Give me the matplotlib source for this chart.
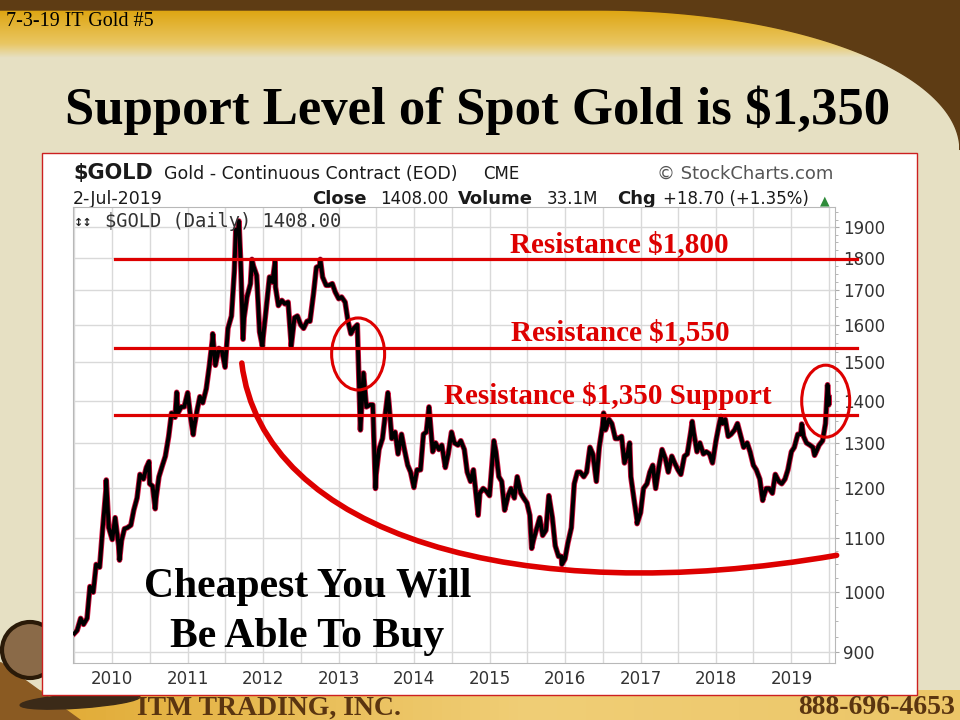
import numpy as np
import pandas as pd
import matplotlib
matplotlib.use('Agg')
import matplotlib.pyplot as plt
import matplotlib.dates as mdates
import matplotlib.patches as mpatches
from matplotlib.path import Path
from matplotlib.ticker import FixedLocator, NullFormatter, FuncFormatter

# gold closes on the 1st and 15th of each month
gold_2009 = [930, 935, 955, 945, 955, 1010, 1000, 1050, 1045, 1115, 1195, 1120]
gold_2010 = [1097, 1140, 1085, 1095, 1118, 1120, 1125, 1155, 1180, 1230, 1220, 1245,
             1210, 1205, 1180, 1225, 1250, 1270, 1315, 1370, 1360, 1370, 1385, 1385]
gold_2011 = [1420, 1360, 1335, 1375, 1410, 1395, 1430, 1485, 1560, 1490, 1535, 1530,
             1485, 1590, 1625, 1760, 1880, 1780, 1620, 1680, 1720, 1775, 1745, 1580]
gold_2012 = [1565, 1640, 1740, 1725, 1710, 1655, 1670, 1660, 1665, 1555, 1620, 1625,
             1600, 1590, 1610, 1610, 1690, 1770, 1775, 1740, 1715, 1715, 1720, 1695]
gold_2013 = [1675, 1680, 1665, 1610, 1575, 1590, 1600, 1350, 1470, 1385, 1390, 1390,
             1230, 1285, 1310, 1370, 1395, 1310, 1325, 1275, 1320, 1285, 1250, 1235]
gold_2014 = [1205, 1240, 1240, 1320, 1325, 1380, 1280, 1300, 1285, 1295, 1245, 1275,
             1325, 1300, 1295, 1305, 1285, 1235, 1215, 1240, 1170, 1190, 1200, 1195]
gold_2015 = [1185, 1265, 1280, 1225, 1215, 1155, 1185, 1200, 1180, 1225, 1190, 1180,
             1170, 1145, 1095, 1115, 1140, 1105, 1115, 1185, 1140, 1085, 1065, 1065]
gold_2016 = [1060, 1090, 1120, 1210, 1235, 1235, 1225, 1235, 1290, 1275, 1215, 1290,
             1340, 1330, 1355, 1345, 1310, 1310, 1315, 1255, 1280, 1225, 1175, 1135]
gold_2017 = [1150, 1200, 1210, 1235, 1250, 1200, 1250, 1285, 1265, 1235, 1270, 1255,
             1240, 1230, 1270, 1275, 1325, 1325, 1280, 1300, 1275, 1280, 1275, 1255]
gold_2018 = [1305, 1340, 1345, 1355, 1315, 1320, 1330, 1345, 1315, 1290, 1300, 1280,
             1250, 1240, 1220, 1175, 1200, 1200, 1190, 1230, 1215, 1210, 1220, 1240]
gold_2019 = [1280, 1290, 1320, 1320, 1315, 1300, 1295, 1290, 1280, 1295, 1305, 1345, 1390]

# highs / lows between those dates
extreme_dates = ['2009-12-03', '2010-02-05', '2010-06-28', '2010-07-28', '2010-11-09',
                 '2011-01-28', '2011-05-02', '2011-08-22', '2011-09-06', '2011-09-26',
                 '2011-11-08', '2011-12-29', '2012-02-28', '2012-05-16', '2012-10-04',
                 '2013-04-16', '2013-06-28', '2013-08-27', '2013-12-31', '2014-03-14',
                 '2014-11-07', '2015-01-22', '2015-07-24', '2015-12-17', '2016-07-06',
                 '2016-11-09', '2016-12-15', '2017-09-08', '2018-01-25', '2018-08-16',
                 '2019-02-20', '2019-04-23', '2019-06-25', '2019-07-02']
extreme_values = [1218, 1058, 1258, 1158, 1421, 1319, 1575, 1891, 1920, 1560,
                  1795, 1540, 1788, 1540, 1795, 1330, 1200, 1420, 1202, 1385,
                  1145, 1305, 1080, 1050, 1370, 1300, 1128, 1350, 1362, 1178,
                  1344, 1272, 1440, 1408]

years = [2010, 2011, 2012, 2013, 2014, 2015, 2016, 2017, 2018, 2019]
price_ticks = [900, 1000, 1100, 1200, 1300, 1400, 1500, 1600, 1700, 1800, 1900]

levels = [1795, 1537, 1365]
level_labels = ['Resistance $1,800', 'Resistance $1,550', 'Resistance $1,350 Support']
level_start, level_end = '2010-01-15', '2019-11-13'

# hand-drawn curve: start, two bezier controls, end
arc_dates = ['2011-09-20', '2011-12-28', '2015-05-27', '2019-08-08']
arc_prices = [1496, 1106, 969, 1067]

circle_dates = ['2013-04-05', '2019-06-16']
circle_prices = [1520, 1399]

red = '#dd0000'
cream = '#e6e0c3'
brown = '#5e3c14'

regular = np.concatenate([gold_2009, gold_2010, gold_2011, gold_2012, gold_2013, gold_2014,
                          gold_2015, gold_2016, gold_2017, gold_2018, gold_2019])
s = pd.Series(regular, index=pd.date_range('2009-07-01', '2019-07-01', freq='SMS'))
s = pd.concat([s, pd.Series(extreme_values, index=pd.to_datetime(extreme_dates))]).sort_index()

fig = plt.figure(figsize=(9.6, 7.2), dpi=100)
bg = fig.add_axes([0, 0, 1, 1], zorder=1)
bg.set_xlim(0, 960)
bg.set_ylim(720, 0)
bg.axis('off')
bg.add_patch(mpatches.Rectangle((0, 0), 960, 720, color=cream, zorder=0))

# golden banner at the top
ys = np.linspace(0, 1, 60)
top = np.array([222, 165, 18]) / 255
mid = np.array([233, 198, 98]) / 255
low = np.array([230, 224, 195]) / 255
grad = np.array([np.interp(ys, [0, 0.7, 1], [top[i], mid[i], low[i]]) for i in range(3)]).T
bg.imshow(grad[:, None, :], extent=[0, 960, 58, 10], aspect='auto', zorder=1)

t = np.linspace(0, np.pi / 2, 80)
arc_x = 600 + 360 * np.cos(t)
arc_y = 150 - 140 * np.sin(t)
poly = [(0, 0), (960, 0)] + list(zip(arc_x, arc_y)) + [(0, 10)]
bg.add_patch(mpatches.Polygon(poly, closed=True, color=brown, zorder=2))
bg.text(6, 22, '7-3-19 IT Gold #5', fontsize=14.5, family='Liberation Serif',
        va='center', ha='left', zorder=3)
bg.text(478, 110, 'Support Level of Spot Gold is $1,350', fontsize=38,
        family='Liberation Serif', weight='bold', ha='center', va='center', zorder=3)

# bottom band
xs = np.linspace(0, 1, 100)
c1 = np.array([224, 168, 48]) / 255
c2 = np.array([240, 206, 118]) / 255
c3 = np.array([236, 198, 104]) / 255
hgrad = np.array([np.interp(xs, [0, 0.55, 1], [c1[i], c2[i], c3[i]]) for i in range(3)]).T
bg.imshow(hgrad[None, :, :], extent=[0, 960, 720, 690], aspect='auto', zorder=1)
bg.add_patch(mpatches.Polygon([(0, 662), (0, 720), (80, 720)], color='#8a5a22', zorder=1.5))
bg.add_patch(mpatches.Circle((30, 650), 28, facecolor='#8a6a48', edgecolor='#2a1a08',
                             lw=3, zorder=1.6))
bg.add_patch(mpatches.Ellipse((80, 701), 120, 14, angle=-4, color='#3b2a18', zorder=1.7))
bg.text(137, 708, 'ITM TRADING, INC.', fontsize=20, family='Liberation Serif',
        weight='bold', color='#5a3510', va='center', ha='left', zorder=3)
bg.text(955, 708, '888-696-4653', fontsize=20, family='Liberation Serif',
        weight='bold', color='#5a3510', va='center', ha='right', zorder=3)

# chart panel
bg.add_patch(mpatches.Rectangle((42, 153), 875, 542, facecolor='white',
                                edgecolor='#cc2020', lw=1, zorder=2))
hdr = dict(family='DejaVu Sans', va='baseline', ha='left', zorder=3, color='#1a1a1a')
bg.text(73, 179, '$GOLD', fontsize=15, weight='bold', **hdr)
bg.text(164, 179, 'Gold - Continuous Contract (EOD)', fontsize=12.5, **hdr)
bg.text(483, 179, 'CME', fontsize=12, **hdr)
bg.text(833, 179, '\u00a9 StockCharts.com', fontsize=13, family='DejaVu Sans',
        va='baseline', ha='right', color='#555555', zorder=3)
bg.text(73, 204, '2-Jul-2019', fontsize=12.5, **hdr)
bg.text(312, 204, 'Close', fontsize=13, weight='bold', **hdr)
bg.text(380, 204, '1408.00', fontsize=12, **hdr)
bg.text(458, 204, 'Volume', fontsize=13, weight='bold', **hdr)
bg.text(547, 204, '33.1M', fontsize=12, **hdr)
bg.text(617, 204, 'Chg', fontsize=13, weight='bold', **hdr)
bg.text(663, 204, '+18.70 (+1.35%)', fontsize=12, **hdr)
bg.text(830, 204, '\u25b2', fontsize=9, family='DejaVu Sans', va='baseline',
        ha='right', color='#2e8b3a', zorder=3)

ax = fig.add_axes([73 / 960, (720 - 663) / 720, 762 / 960, 456 / 720], zorder=3)
ax.set_facecolor('white')
ax.set_yscale('log')
ax.set_xlim(pd.Timestamp('2009-06-25'), pd.Timestamp('2019-07-31'))
ax.set_ylim(883, 1968)

ax.plot(s.index, s.values, color='#d0103c', lw=4.0, zorder=2)
ax.plot(s.index, s.values, color='black', lw=2.8, zorder=3)

ax.xaxis.set_major_locator(FixedLocator(mdates.date2num([pd.Timestamp(f'{y}-01-01') for y in years])))
ax.xaxis.set_major_formatter(FuncFormatter(lambda v, p: mdates.num2date(v).strftime('%Y')))
ax.xaxis.set_minor_locator(FixedLocator(mdates.date2num(
    [pd.Timestamp(f'{y}-07-01') for y in [2009] + years])))
ax.yaxis.set_major_locator(FixedLocator(price_ticks))
ax.yaxis.set_major_formatter(FuncFormatter(lambda v, p: f'{v:.0f}'))
ax.yaxis.set_minor_locator(FixedLocator([p for p in range(900, 1975, 25) if p % 100]))
ax.yaxis.set_minor_formatter(NullFormatter())
ax.yaxis.tick_right()
ax.tick_params(axis='x', which='both', length=0, pad=5, labelsize=12, labelcolor='#333333')
ax.tick_params(axis='y', which='major', length=3, pad=3, labelsize=12,
               labelcolor='#333333', color='#aaaaaa')
ax.tick_params(axis='y', which='minor', length=2, color='#aaaaaa')
for lab in ax.get_xticklabels() + ax.get_yticklabels():
    lab.set_family('DejaVu Sans')
ax.grid(True, which='major', color='#d9d9d9', lw=1, zorder=0)
ax.grid(True, which='minor', axis='x', color='#d9d9d9', lw=1, zorder=0)
for sp in ax.spines.values():
    sp.set_color('#b8b8b8')

for lvl in levels:
    ax.plot([pd.Timestamp(level_start), pd.Timestamp(level_end)], [lvl, lvl],
            color=red, lw=2.3, clip_on=False, zorder=4)

# overlay for the hand-drawn marks and slide text
ov = fig.add_axes([0, 0, 1, 1], zorder=5)
ov.set_xlim(0, 960)
ov.set_ylim(720, 0)
ov.axis('off')
fig.canvas.draw()
to_ov = ov.transData.inverted()


def to_px(d, p):
    return to_ov.transform(ax.transData.transform((mdates.date2num(pd.Timestamp(d)), p)))


arc_pts = [to_px(d, p) for d, p in zip(arc_dates, arc_prices)]
ov.add_patch(mpatches.PathPatch(Path(arc_pts, [Path.MOVETO, Path.CURVE4, Path.CURVE4, Path.CURVE4]),
                                fill=False, edgecolor=red, lw=4, capstyle='round'))
for d, p, w, h in zip(circle_dates, circle_prices, [53, 48], [72, 72]):
    ov.add_patch(mpatches.Ellipse(to_px(d, p), w, h, fill=False, edgecolor=red, lw=2.2))

lab = dict(family='Liberation Serif', weight='bold', color=red, fontsize=21,
           ha='center', va='baseline')
ov.text(619, 252, level_labels[0], **lab)
ov.text(620, 340, level_labels[1], **lab)
ov.text(608, 404, level_labels[2], **lab)
ov.text(308, 597, 'Cheapest You Will', family='Liberation Serif', weight='bold',
        fontsize=30, ha='center', va='baseline')
ov.text(307, 647, 'Be Able To Buy', family='Liberation Serif', weight='bold',
        fontsize=30, ha='center', va='baseline')
ov.text(105, 227, '$GOLD (Daily) 1408.00', family='DejaVu Sans Mono', fontsize=13.5,
        color='#333333', ha='left', va='baseline')
ov.text(74, 226, '\u2195\u2195', family='DejaVu Sans', fontsize=8, weight='bold',
        color='#222222', ha='left', va='baseline')

fig.savefig('out.png', dpi=100)
